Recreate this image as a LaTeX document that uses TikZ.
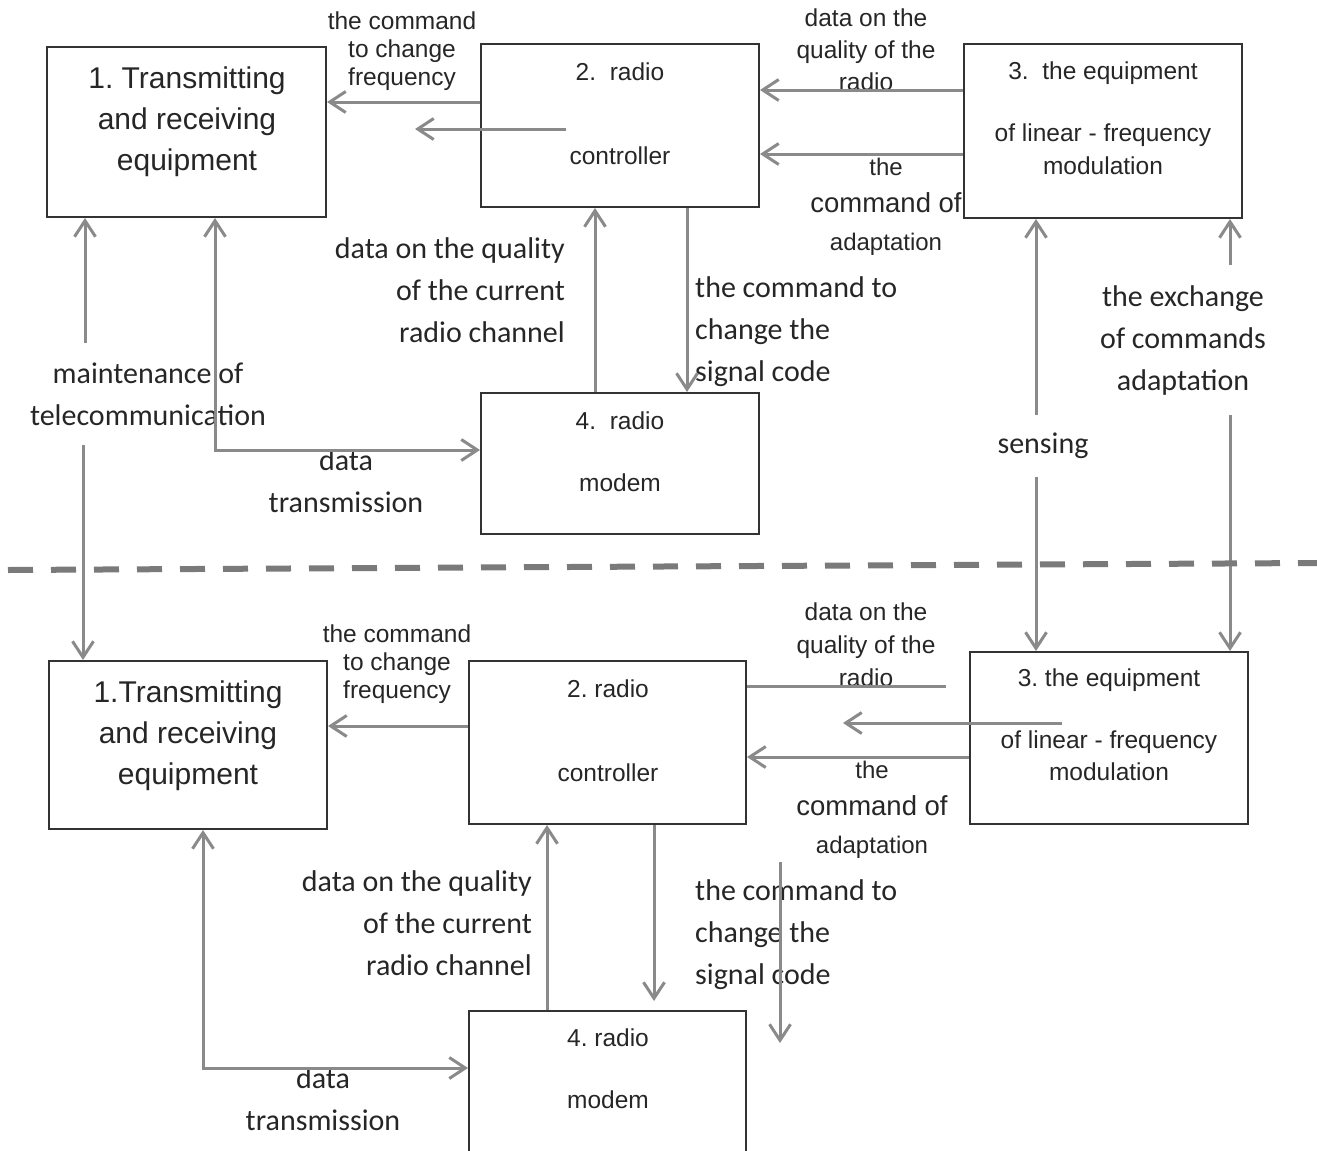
\documentclass[tikz,border=0pt]{standalone}
\usepackage{fontspec}
\setmainfont{Liberation Sans}
\newfontfamily\calibfont{Carlito}
\usetikzlibrary{arrows.meta,calc}
\frenchspacing
\definecolor{boxgray}{HTML}{333333}
\definecolor{arrgray}{HTML}{8A8A8A}
\definecolor{txtgray}{HTML}{262626}
\definecolor{dashgray}{HTML}{7A7A7A}
\tikzset{
	block/.style={draw=boxgray, line width=2pt, inner sep=0pt},
	txt/.style={text=txtgray, inner sep=0pt, align=center},
	calib/.style={font=\calibfont\fontsize{30}{42}\selectfont},
	flow/.style={draw=arrgray, line width=3pt, -{Straight Barb[length=16pt,width=21pt]}},
	both/.style={draw=arrgray, line width=3pt, {Straight Barb[length=16pt,width=21pt]}-{Straight Barb[length=16pt,width=21pt]}},
	plain/.style={draw=arrgray, line width=3pt},
	divider/.style={draw=dashgray, line width=6pt, dash pattern=on 25pt off 18pt}
}

\begin{document}
\begin{tikzpicture}[x=1pt,y=-1pt]
	%%%%% START %%%%%
	\useasboundingbox (0,0) rectangle (1317,1151);
	
	% upper scheme
	\node[block, minimum width=279pt, minimum height=170pt] (trx) at (186.5,132) {};
	\node[block, minimum width=278pt, minimum height=163pt] (ctl) at (620,125.5) {};
	\node[block, minimum width=278pt, minimum height=174pt] (lfm) at (1103,131) {};
	\node[block, minimum width=278pt, minimum height=141pt] (mdm) at (620,463.5) {};
	
	\node[txt, font=\fontsize{30}{41}\selectfont] (trxtxt) at (187,122) {1. Transmitting\\and receiving\\equipment};
	\node[txt, font=\fontsize{24.5}{84}\selectfont] (ctltxt) at (620,114) {2.~~radio\\controller};
	\node[txt, font=\fontsize{24.5}{33}\selectfont] (lfmtxt) at (1103,118.5) {3.~~the equipment\\[29pt]of linear - frequency\\modulation};
	\node[txt, font=\fontsize{24.5}{62}\selectfont] (mdmtxt) at (620,452) {4.~~radio\\modem};
	
	\node[txt, font=\fontsize{24.5}{28}\selectfont] (frq) at (402,51) {the command\\to change\\frequency};
	\node[txt, font=\fontsize{24.5}{32}\selectfont] (qrad) at (866,50) {data on the\\quality of the\\radio};
	\node[txt, font=\fontsize{24}{37.5}\selectfont] (adp) at (886,206.5) {the\\{\fontsize{27.5}{37.5}\selectfont command of}\\adaptation};
	\node[txt, calib, align=right, anchor=east] (qch) at (565,290) {data on the quality\\of the current\\radio channel};
	\node[txt, calib, align=left, anchor=west] (sig) at (695,332) {the command to\\change the\\signal code};
	\node[txt, calib, inner ysep=19pt] (maint) at (148,394) {maintenance of\\telecommunication};
	\node[txt, calib] (dtr) at (346,481.5) {data\\transmission};
	\node[txt, calib, inner ysep=17.5pt] (sens) at (1043,446) {sensing};
	\node[txt, calib, inner ysep=20pt] (exch) at (1183,340) {the exchange\\of commands\\adaptation};
	
	% lower scheme
	\node[block, minimum width=278pt, minimum height=168pt] (trxb) at (188,745) {};
	\node[block, minimum width=277pt, minimum height=163pt] (ctlb) at (607.5,742.5) {};
	\node[block, minimum width=278pt, minimum height=172pt] (lfmb) at (1109,738) {};
	\node[block, minimum width=277pt, minimum height=158pt] (mdmb) at (607.5,1090) {};
	
	\node[txt, font=\fontsize{30}{41}\selectfont] (trxbtxt) at (188,736) {1.Transmitting\\and receiving\\equipment};
	\node[txt, font=\fontsize{24.5}{84}\selectfont] (ctlbtxt) at (608,731) {2. radio\\controller};
	\node[txt, font=\fontsize{24.5}{32}\selectfont] (lfmbtxt) at (1109,725) {3. the equipment\\[30pt]of linear - frequency\\modulation};
	\node[txt, font=\fontsize{24.5}{62}\selectfont] (mdmbtxt) at (608,1069) {4. radio\\modem};
	
	\node[txt, font=\fontsize{24.5}{28}\selectfont] (frqb) at (397,664) {the command\\to change\\frequency};
	\node[txt, font=\fontsize{24.5}{33}\selectfont] (qradb) at (866,645) {data on the\\quality of the\\radio};
	\node[txt, font=\fontsize{24}{37.5}\selectfont] (adpb) at (872,809.5) {the\\{\fontsize{27.5}{37.5}\selectfont command of}\\adaptation};
	\node[txt, calib, align=right, anchor=east] (qchb) at (532,923) {data on the quality\\of the current\\radio channel};
	\node[txt, calib, align=left, anchor=west] (sigb) at (695,935) {the command to\\change the\\signal code};
	\node[txt, calib] (dtrb) at (323,1099) {data\\transmission};
	
	% connectors, upper
	\draw[flow] ([yshift=23.5pt]ctl.west) coordinate (c1) -- (c1 -| trx.east);
	\coordinate (fa) at (566,129);
	\coordinate (fb) at (415,129);
	\draw[flow] (fa) -- (fb);
	\draw[flow] ([yshift=41pt]lfm.west) coordinate (c2) -- (c2 -| ctl.east);
	\draw[flow] ([yshift=-23pt]lfm.west) coordinate (c3) -- (c3 -| ctl.east);
	\draw[flow] ([xshift=-25pt]mdm.north) coordinate (c4) -- (c4 |- ctl.south);
	\draw[flow] ([xshift=67pt]ctl.south) coordinate (c5) -- (c5 |- mdm.north);
	\draw[both] ([xshift=28.5pt]trx.south) |- ([yshift=13.5pt]mdm.west);
	
	\coordinate (c6) at ([xshift=-101.5pt]trx.south);
	\draw[flow] (c6 |- maint.north) -- (c6);
	\coordinate (c7) at ([xshift=-105pt]trxb.north);
	\draw[flow] (c7 |- maint.south) -- (c7);
	
	\coordinate (c8) at ([xshift=-67pt]lfm.south);
	\draw[flow] (c8 |- sens.north) -- (c8);
	\coordinate (c9) at ([xshift=-73pt]lfmb.north);
	\draw[flow] (c9 |- sens.south) -- (c9);
	\coordinate (c10) at ([xshift=127pt]lfm.south);
	\draw[flow] (c10 |- exch.north) -- (c10);
	\coordinate (c11) at ([xshift=121pt]lfmb.north);
	\draw[flow] (c11 |- exch.south) -- (c11);
	
	% connectors, lower
	\draw[flow] ([yshift=16.5pt]ctlb.west) coordinate (d1) -- (d1 -| trxb.east);
	\coordinate (lend) at (946,686);
	\draw[plain] ([yshift=56.5pt]ctlb.east) -- (lend);
	\coordinate (fc) at (1062,723);
	\coordinate (fd) at (843,723);
	\draw[flow] (fc) -- (fd);
	\draw[flow] ([yshift=-19pt]lfmb.west) coordinate (d2) -- (d2 -| ctlb.east);
	\draw[flow] ([xshift=-60.5pt]mdmb.north) coordinate (d3) -- (d3 |- ctlb.south);
	\draw[flow, shorten >=9pt] ([xshift=46.5pt]ctlb.south) coordinate (d4) -- (d4 |- mdmb.north);
	\coordinate (fe) at (780,862);
	\coordinate (ff) at (780,1043);
	\draw[flow] (fe) -- (ff);
	\draw[both] ([xshift=15pt]trxb.south) |- ([yshift=22pt]mdmb.west);
	
	% border between the two schemes
	\coordinate (dl) at (8,570);
	\coordinate (dr) at (1317,563);
	\draw[divider] (dl) -- (dr);
	
	%%%%% END %%%%%
\end{tikzpicture}
\end{document}
